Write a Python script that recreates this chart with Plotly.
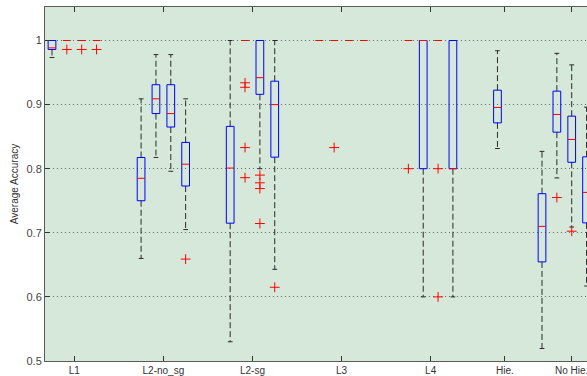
import plotly.graph_objects as go

# Group labels and the slot at which each label is centred
group_labels = ["L1", "L2-no_sg", "L2-sg", "L3", "L4", "Hie.", "No Hie."]
group_centers = [2.5, 8.5, 14.5, 20.5, 26.5, 31.5, 36.0]

# Slot of each box along the x axis
positions = [1, 2, 3, 4,
             7, 8, 9, 10,
             13, 14, 15, 16,
             19, 20, 21, 22,
             25, 26, 27, 28,
             31,
             34, 35, 36, 37]

# Five-number summaries for each box
upper_whisker = [1.0, 1.0, 1.0, 1.0,
                 0.909, 0.978, 0.978, 0.909,
                 1.0, 1.0, 1.0, 1.0,
                 1.0, 1.0, 1.0, 1.0,
                 1.0, 1.0, 1.0, 1.0,
                 0.984,
                 0.827, 0.980, 0.962, 0.896]
q3 = [1.0, 1.0, 1.0, 1.0,
      0.8175, 0.931, 0.931, 0.841,
      0.866, 1.0, 1.0, 0.9365,
      1.0, 1.0, 1.0, 1.0,
      1.0, 1.0, 1.0, 1.0,
      0.9225,
      0.761, 0.921, 0.882, 0.8185]
median = [0.9885, 1.0, 1.0, 1.0,
          0.785, 0.909, 0.886, 0.807,
          0.801, 1.0, 0.942, 0.900,
          1.0, 1.0, 1.0, 1.0,
          1.0, 1.0, 1.0, 0.8,
          0.8955,
          0.710, 0.8846, 0.8456, 0.763]
q1 = [0.986, 1.0, 1.0, 1.0,
      0.750, 0.886, 0.865, 0.773,
      0.715, 1.0, 0.916, 0.818,
      1.0, 1.0, 1.0, 1.0,
      1.0, 0.8, 1.0, 0.8,
      0.8715,
      0.6546, 0.857, 0.810, 0.7155]
lower_whisker = [0.9735, 1.0, 1.0, 1.0,
                 0.660, 0.8175, 0.796, 0.705,
                 0.530, 1.0, 0.800, 0.643,
                 1.0, 1.0, 1.0, 1.0,
                 1.0, 0.6, 1.0, 0.6,
                 0.8315,
                 0.5195, 0.7856, 0.709, 0.617]
outliers = [[], [0.986], [0.986], [0.986],
            [], [], [], [0.659],
            [], [0.934, 0.927, 0.833, 0.786], [0.790, 0.778, 0.769, 0.7145], [0.615],
            [], [0.833], [], [],
            [0.8], [], [0.8, 0.6], [],
            [],
            [], [0.755], [0.7025], []]

BOX_HALF = 0.26
CAP_HALF = 0.16

wx, wy = [], []
cx, cy = [], []
bx, by = [], []
mx, my = [], []
ox, oy = [], []
for i, p in enumerate(positions):
    # whiskers
    if upper_whisker[i] > q3[i]:
        wx += [p, p, None]
        wy += [q3[i], upper_whisker[i], None]
    if lower_whisker[i] < q1[i]:
        wx += [p, p, None]
        wy += [q1[i], lower_whisker[i], None]
    # whisker caps (hidden under the box when the whisker has zero length)
    for v, edge in ((upper_whisker[i], q3[i]), (lower_whisker[i], q1[i])):
        if v != edge:
            cx += [p - CAP_HALF, p + CAP_HALF, None]
            cy += [v, v, None]
    # box outline; a box with no spread is shown by its median alone
    if q3[i] > q1[i]:
        bx += [p - BOX_HALF, p + BOX_HALF, p + BOX_HALF, p - BOX_HALF, p - BOX_HALF, None]
        by += [q1[i], q1[i], q3[i], q3[i], q1[i], None]
    # median
    mx += [p - BOX_HALF, p + BOX_HALF, None]
    my += [median[i], median[i], None]
    # outliers
    for v in outliers[i]:
        ox.append(p)
        oy.append(v)

fig = go.Figure()
fig.add_trace(go.Scatter(x=wx, y=wy, mode="lines", hoverinfo="skip",
                         line=dict(color="#2a2a2a", width=1, dash="6px,3px")))
fig.add_trace(go.Scatter(x=cx, y=cy, mode="lines", hoverinfo="skip",
                         line=dict(color="#2a2a2a", width=1)))
fig.add_trace(go.Scatter(x=bx, y=by, mode="lines", hoverinfo="skip",
                         line=dict(color="#0000ff", width=1)))
fig.add_trace(go.Scatter(x=mx, y=my, mode="lines", hoverinfo="skip",
                         line=dict(color="#ff0000", width=1)))
fig.add_trace(go.Scatter(x=ox, y=oy, mode="markers",
                         marker=dict(symbol="cross-thin", size=7,
                                     line=dict(color="#ff0000", width=1))))

fig.update_layout(
    width=587, height=376,
    margin=dict(l=45, r=0, t=7, b=15),
    paper_bgcolor="white",
    plot_bgcolor="#d6e8d9",
    showlegend=False,
    font=dict(family="Liberation Sans, Arial, sans-serif", size=10, color="#333333"),
)
fig.update_xaxes(
    range=[0.5286, 37.03],
    tickmode="array", tickvals=group_centers, ticktext=group_labels,
    ticks="inside", ticklen=5, tickcolor="#333333",
    showline=True, linecolor="#5a5a5a", linewidth=1, mirror="ticks",
    showgrid=False, zeroline=False,
    ticklabeloverflow="allow",
    tickfont=dict(size=10, color="#333333"),
)
fig.update_yaxes(
    range=[0.5, 1.05226],
    tickmode="array", tickvals=[0.5, 0.6, 0.7, 0.8, 0.9, 1.0],
    ticktext=["0.5", "0.6", "0.7", "0.8", "0.9", "1"],
    ticks="inside", ticklen=5, tickcolor="#333333",
    showline=True, linecolor="#5a5a5a", linewidth=1,
    showgrid=True, gridcolor="#5f6b62", griddash="1px,3px", gridwidth=1,
    zeroline=False,
    tickfont=dict(size=11, color="#444444"),
    title=dict(text="Average Accuracy", font=dict(size=10, color="#333333"), standoff=6),
)

fig.write_html("out.html")
